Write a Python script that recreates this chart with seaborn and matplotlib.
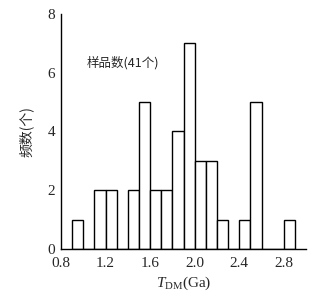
import matplotlib
matplotlib.use("Agg")
import matplotlib.pyplot as plt
import seaborn as sns
import numpy as np
import pandas as pd

# bin left edges (Ga) and counts
bin_left = [0.9, 1.0, 1.1, 1.2, 1.3, 1.4, 1.5, 1.6, 1.7, 1.8,
            1.9, 2.0, 2.1, 2.2, 2.3, 2.4, 2.5, 2.6, 2.7, 2.8]
counts = [1, 0, 2, 2, 0, 2, 5, 2, 2, 4,
          7, 3, 3, 1, 0, 1, 5, 0, 0, 1]
bin_width = 0.1
x_ticks = [0.8, 1.2, 1.6, 2.0, 2.4, 2.8]
y_ticks = [0, 2, 4, 6, 8]

df = pd.DataFrame({"tdm": np.array(bin_left) + bin_width / 2, "n": counts})
edges = [round(v, 2) for v in bin_left] + [round(bin_left[-1] + bin_width, 2)]

sns.set_style("white")
plt.rcParams['font.family'] = ['Liberation Serif', 'Noto Sans CJK SC']
plt.rcParams['mathtext.fontset'] = 'custom'
plt.rcParams['mathtext.rm'] = 'Liberation Serif'
plt.rcParams['mathtext.it'] = 'Liberation Serif:italic'

fig = plt.figure(figsize=(3.14, 2.96), dpi=100)
ax = fig.add_axes([0.194, 0.159, 0.781, 0.794])

sns.histplot(data=df, x="tdm", weights="n", bins=edges, ax=ax,
             color="white", edgecolor="black", linewidth=1.0, alpha=1)

ax.set_xlim(0.8, 3.0)
ax.set_ylim(0, 8)
ax.set_xticks(x_ticks)
ax.set_xticklabels([f"{v:.1f}" for v in x_ticks])
ax.set_yticks(y_ticks)
ax.tick_params(axis="x", length=0, pad=6, labelsize=11)
ax.tick_params(axis="y", direction="in", length=3, width=1, pad=4, labelsize=11)
for s in ["top", "right"]:
    ax.spines[s].set_visible(False)
for s in ["left", "bottom"]:
    ax.spines[s].set_linewidth(1.0)
    ax.spines[s].set_color("black")

ax.set_xlabel(r"$\mathit{T}_{\mathrm{DM}}$(Ga)", fontsize=11, labelpad=3)
ax.set_ylabel("频数(个)", fontsize=10, family=["Noto Sans CJK SC"], labelpad=10)
ax.text(0.105, 0.79, "样品数(41个)", transform=ax.transAxes, fontsize=9,
        family=["Noto Sans CJK SC", "Liberation Serif"], va="center")

fig.savefig("out.png", dpi=100)
